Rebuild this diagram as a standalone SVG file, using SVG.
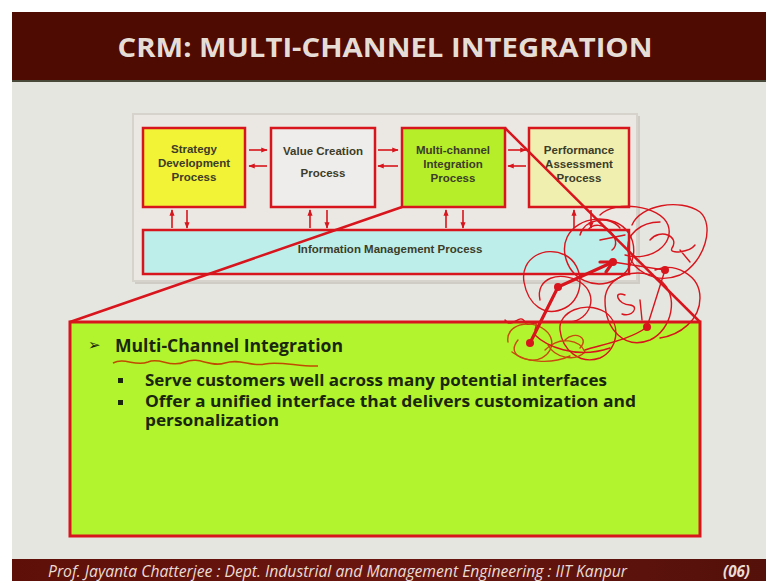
<svg xmlns="http://www.w3.org/2000/svg" width="766" height="581" viewBox="0 0 766 581">
  <defs>
    <style>
      .box { stroke: #d8141c; stroke-width: 2.5; }
      .lbl { font-family: "Liberation Sans", Arial, sans-serif; font-weight: bold; font-size: 11.5px; fill: #3c3c28; text-anchor: middle; }
      .flow { stroke: #d8141c; stroke-width: 1.6; fill: none; marker-end: url(#ah); }
      .body { font-family: "Open Sans", "Liberation Sans", sans-serif; font-weight: 700; fill: #1a260c; }
      .ink { stroke: #d8141c; stroke-width: 1.4; fill: none; stroke-linecap: round; }
      .ink2 { stroke: #c84a10; stroke-width: 1.4; fill: none; stroke-linecap: round; }
      .heavy { stroke: #d8141c; stroke-width: 3.2; fill: none; stroke-linecap: round; }
    </style>
    <marker id="ah" viewBox="0 0 10 10" refX="9" refY="5" markerWidth="4" markerHeight="4" orient="auto">
      <path d="M0,1 L10,5 L0,9 z" fill="#d8141c"/>
    </marker>
    <linearGradient id="foot" x1="0" y1="0" x2="1" y2="0">
      <stop offset="0" stop-color="#5e1008"/>
      <stop offset="0.5" stop-color="#6a1610"/>
      <stop offset="1" stop-color="#54100a"/>
    </linearGradient>
  </defs>

  <!-- page -->
  <rect x="0" y="0" width="766" height="581" fill="#ffffff"/>
  <rect x="12" y="12" width="754" height="569" fill="#e6e6e0"/>

  <!-- title band -->
  <rect x="12" y="12" width="754" height="69" fill="#4e0b01"/>
  <rect x="12" y="80" width="754" height="2" fill="#4a4a3a"/>
  <text x="385" y="57" text-anchor="middle" font-family="'Open Sans', 'Liberation Sans', sans-serif" font-weight="bold" font-size="26" fill="#e6ded6" textLength="535" lengthAdjust="spacingAndGlyphs">CRM: MULTI-CHANNEL INTEGRATION</text>

  <!-- process panel -->
  <rect x="135" y="116" width="505" height="168" fill="#cfcbc5"/>
  <rect x="133" y="114" width="504" height="167" fill="#ebe8e3" stroke="#d6d2cc" stroke-width="2"/>

  <g id="strategy">
    <rect class="box" x="143" y="128" width="102" height="79" fill="#f2f236"/>
    <text class="lbl" x="194" y="153">Strategy</text>
    <text class="lbl" x="194" y="167">Development</text>
    <text class="lbl" x="194" y="181">Process</text>
  </g>
  <g id="value">
    <rect class="box" x="271" y="128" width="104" height="79" fill="#efedeb"/>
    <text class="lbl" x="323" y="155">Value Creation</text>
    <text class="lbl" x="323" y="177">Process</text>
  </g>
  <g id="multichannel">
    <rect class="box" x="402" y="128" width="103" height="79" fill="#b6ee2a"/>
    <text class="lbl" x="453" y="154">Multi-channel</text>
    <text class="lbl" x="453" y="168">Integration</text>
    <text class="lbl" x="453" y="182">Process</text>
  </g>
  <g id="performance">
    <rect class="box" x="529" y="128" width="100" height="79" fill="#f0efb0"/>
    <text class="lbl" x="579" y="154">Performance</text>
    <text class="lbl" x="579" y="168">Assessment</text>
    <text class="lbl" x="579" y="182">Process</text>
  </g>
  <g id="information">
    <rect class="box" x="143" y="230" width="486" height="44" fill="#bdeeea"/>
    <text class="lbl" x="390" y="253">Information Management Process</text>
  </g>

  <g id="connectors">
    <line class="flow" x1="249" y1="150" x2="267" y2="150"/>
    <line class="flow" x1="267" y1="166" x2="249" y2="166"/>
    <line class="flow" x1="378" y1="150" x2="398" y2="150"/>
    <line class="flow" x1="398" y1="166" x2="378" y2="166"/>
    <line class="flow" x1="508" y1="150" x2="526" y2="150"/>
    <line class="flow" x1="526" y1="166" x2="508" y2="166"/>
    <line class="flow" x1="172" y1="228" x2="172" y2="210"/>
    <line class="flow" x1="187" y1="210" x2="187" y2="228"/>
    <line class="flow" x1="310" y1="228" x2="310" y2="210"/>
    <line class="flow" x1="327" y1="210" x2="327" y2="228"/>
    <line class="flow" x1="446" y1="228" x2="446" y2="210"/>
    <line class="flow" x1="463" y1="210" x2="463" y2="228"/>
    <line class="flow" x1="574" y1="228" x2="574" y2="210"/>
    <line class="flow" x1="591" y1="210" x2="591" y2="228"/>
    <!-- zoom lines to the detail box -->
    <line x1="402" y1="207" x2="70" y2="322" stroke="#d8141c" stroke-width="2.5"/>
    <line x1="505" y1="128" x2="700" y2="322" stroke="#d8141c" stroke-width="2.5"/>
  </g>

  <!-- detail box -->
  <g id="detail">
    <rect x="70" y="322" width="630" height="214" fill="#b2f42e" stroke="#d8141c" stroke-width="3"/>
    <text x="88" y="350" font-family="'DejaVu Sans', sans-serif" font-size="15" fill="#1a260c">➢</text>
    <text class="body" x="115" y="352" font-size="17.5" font-weight="600" textLength="228" lengthAdjust="spacingAndGlyphs">Multi-Channel Integration</text>
    <path d="M113,363 C125,357 135,367 148,362 C160,357 170,368 185,362 C200,356 210,368 225,363 C240,358 250,367 265,364 C280,361 300,367 318,366" stroke="#c04a00" stroke-width="1.5" fill="none"/>
    <rect x="118" y="378" width="5" height="5" fill="#1a260c"/>
    <text class="body" x="145" y="386" font-size="15.5" textLength="462" lengthAdjust="spacingAndGlyphs">Serve customers well across many potential interfaces</text>
    <rect x="118" y="400" width="5" height="5" fill="#1a260c"/>
    <text class="body" x="145" y="407" font-size="15.5" textLength="491" lengthAdjust="spacingAndGlyphs">Offer a unified interface that delivers customization and</text>
    <text class="body" x="145" y="426" font-size="15.5" textLength="134" lengthAdjust="spacingAndGlyphs">personalization</text>
  </g>

  <!-- hand-drawn annotations -->
  <g id="annotations">
    <path class="ink" d="M632,225 C640,205 680,198 700,212 C715,225 705,262 680,275 C655,285 630,270 628,250 C626,235 640,222 660,222"/>
    <path class="ink" d="M600,215 C615,200 660,205 668,225 C675,245 650,262 625,255"/>
    <path class="ink" d="M565,255 C560,228 590,212 615,222 C640,232 640,268 615,280 C595,290 570,280 565,255 Z"/>
    <path class="ink" d="M580,235 C585,218 610,215 620,228"/>
    <path class="ink" d="M524,282 C520,258 545,245 565,255 C585,265 585,298 565,308 C545,318 528,305 524,282"/>
    <path class="ink" d="M540,300 C535,278 560,270 580,282 C600,295 590,320 570,322"/>
    <path class="ink" d="M605,300 C605,275 640,265 660,280 C680,295 672,330 650,340 C625,350 605,330 605,300"/>
    <path class="ink" d="M655,270 C675,262 700,275 700,298 C700,320 680,335 660,338"/>
    <path class="ink" d="M560,330 C558,312 585,300 605,312 C622,324 618,350 600,358 C580,365 562,350 560,330"/>
    <path class="ink" d="M588,230 C600,215 625,240 612,250 M600,240 L625,235"/>
    <path class="ink" d="M650,240 C660,228 680,236 672,248 C668,255 690,252 695,245 M680,250 L690,262"/>
    <path class="ink" d="M625,295 C612,290 618,305 630,305 C640,306 632,318 622,314 M640,300 L642,320"/>
    <path class="ink" d="M505,320 C512,330 520,312 525,322 C528,330 540,315 535,330"/>
    <path class="ink2" d="M508,342 C505,325 530,318 545,330 C560,342 548,362 530,360 C515,358 510,350 518,340"/>
    <path class="ink2" d="M545,350 C560,335 580,340 585,352 C575,362 555,358 548,345 M565,340 C575,330 590,338 580,348"/>
    <path class="ink2" d="M512,352 C525,362 550,365 570,356"/>
    <path class="ink" d="M535,335 C545,345 575,360 610,348"/>
    <path class="heavy" d="M530,343 L558,287 L613,262"/>
    <path class="ink" d="M613,262 L665,270 L647,327 C630,340 600,345 585,350"/>
    <path class="heavy" d="M600,262 L613,262 L606,272"/>
    <circle cx="530" cy="343" r="4" fill="#d8141c"/>
    <circle cx="558" cy="287" r="4" fill="#d8141c"/>
    <circle cx="613" cy="262" r="4" fill="#d8141c"/>
    <circle cx="665" cy="270" r="4" fill="#d8141c"/>
    <circle cx="647" cy="327" r="4" fill="#d8141c"/>
  </g>

  <!-- footer band -->
  <rect x="12" y="559" width="754" height="22" fill="url(#foot)"/>
  <text x="48" y="577" font-family="'Open Sans', 'Liberation Sans', sans-serif" font-style="italic" font-size="16" fill="#eadcd4" textLength="579" lengthAdjust="spacingAndGlyphs">Prof. Jayanta Chatterjee : Dept. Industrial and Management Engineering : IIT Kanpur</text>
  <text x="723" y="577" font-family="'Open Sans', 'Liberation Sans', sans-serif" font-style="italic" font-weight="bold" font-size="16" fill="#eadcd4" textLength="27" lengthAdjust="spacingAndGlyphs">(06)</text>
</svg>
